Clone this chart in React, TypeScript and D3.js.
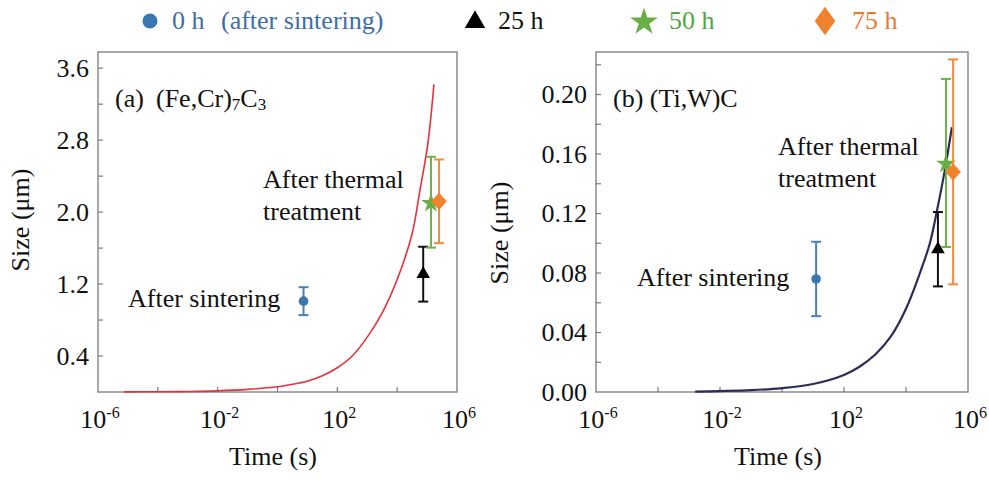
import React from 'react';
import * as d3 from 'd3';

const WIDTH = 989;
const HEIGHT = 480;
const FONT = '"Liberation Serif", "Times New Roman", serif';

// legend / series
const legendLabels = ['0 h', '25 h', '50 h', '75 h'];
const legendNotes = ['(after sintering)', '', '', ''];
const markerColors = ['#3a76b0', '#000000', '#6aae46', '#f0822e'];
const barColors = ['#4a7fb6', '#111111', '#6db24a', '#f08a3c'];
const textColors = ['#3d6ea6', '#111111', '#52a63a', '#e9782f'];

// x ticks (log10 of time)
const xLabelExps = [-6, -2, 2, 6];
const xMinorExps = [-4, -2, 0, 2, 4];

// (a) (Fe,Cr)7C3 — model curve, log10(t) vs size (µm)
const curveALogT = [-5.13, -4, -3, -2, -1, 0, 0.73, 1, 1.5, 2, 2.5, 3, 3.5, 4, 4.5, 4.75, 5, 5.1, 5.23];
const curveASize = [0.001, 0.003, 0.006, 0.013, 0.029, 0.058, 0.1, 0.12, 0.18, 0.27, 0.4, 0.61, 0.88, 1.25, 1.76, 2.22, 2.7, 2.97, 3.42];
// measured points
const pointsALogT = [0.87, 4.87, 5.13, 5.4];
const pointsASize = [1.01, 1.31, 2.11, 2.12];
const pointsAErr = [0.155, 0.305, 0.505, 0.465];
const yTicksA = [0.4, 1.2, 2.0, 2.8, 3.6];
const yMinorA = [0.4, 0.8, 1.2, 1.6, 2.0, 2.4, 2.8, 3.2, 3.6];

// (b) (Ti,W)C — model curve
const curveBLogT = [-2.8, -2, -1, 0, 1, 2, 2.5, 3, 3.5, 4, 4.5, 4.77, 5, 5.26, 5.48];
const curveBSize = [0.0003, 0.0006, 0.0012, 0.0026, 0.0054, 0.0115, 0.017, 0.025, 0.037, 0.056, 0.083, 0.1, 0.122, 0.15, 0.178];
const pointsBLogT = [1.1, 5.03, 5.29, 5.52];
const pointsBSize = [0.076, 0.096, 0.154, 0.148];
const pointsBErr = [0.025, 0.025, 0.0565, 0.0756];
const yTicksB = [0, 0.04, 0.08, 0.12, 0.16, 0.2];
const yMinorB = [0.02, 0.04, 0.06, 0.08, 0.1, 0.12, 0.14, 0.16, 0.18, 0.2, 0.22];

const PLOT_TOP = 52;
const PLOT_BOTTOM = 392;

function marker(i: number, x: number, y: number, big: boolean) {
  const c = markerColors[i];
  if (i === 0) {
    return <circle cx={x} cy={y} r={big ? 7.5 : 4.8} fill={c} />;
  }
  if (i === 1) {
    const p = d3.symbol().type(d3.symbolTriangle).size(big ? 180 : 80)();
    return <path d={p || ''} transform={`translate(${x},${y + (big ? 1 : 0)})`} fill={c} />;
  }
  if (i === 2) {
    const p = d3.symbol().type(d3.symbolStar).size(big ? 240 : 120)();
    return <path d={p || ''} transform={`translate(${x},${y + 1})`} fill={c} />;
  }
  const p = d3.symbol().type(d3.symbolSquare).size(big ? 210 : 120)();
  return <path d={p || ''} transform={`translate(${x},${y}) scale(1,${big ? 1.4 : 1.12}) rotate(45)`} fill={c} />;
}

type PanelProps = {
  x0: number; x1: number; yMax: number;
  yTicks: number[]; yMinor: number[]; fmt: (v: number) => string;
  curveT: number[]; curveS: number[]; curveColor: string; curveWidth: number;
  ptT: number[]; ptS: number[]; ptE: number[];
  children?: React.ReactNode;
};

function Panel(p: PanelProps) {
  const x = d3.scaleLog().domain([1e-6, 1e6]).range([p.x0, p.x1]);
  const y = d3.scaleLinear().domain([0, p.yMax]).range([PLOT_BOTTOM, PLOT_TOP]);
  const line = d3.line<number>()
    .x((_, i) => x(Math.pow(10, p.curveT[i])))
    .y(d => y(d))
    .curve(d3.curveCatmullRom.alpha(0.5));
  const axisColor = '#7a7a7a';
  return (
    <g>
      {/* frame */}
      <rect x={p.x0} y={PLOT_TOP} width={p.x1 - p.x0} height={PLOT_BOTTOM - PLOT_TOP}
        fill="none" stroke={axisColor} strokeWidth={1.3} />
      {/* y ticks */}
      {p.yMinor.map(v => (
        <line key={'ym' + v} x1={p.x0} x2={p.x0 + 5} y1={y(v)} y2={y(v)} stroke={axisColor} strokeWidth={1.2} />
      ))}
      {p.yTicks.map(v => (
        <text key={'yl' + v} x={p.x0 - 9} y={y(v) + 8.5} textAnchor="end" fontSize={26} fill="#111">{p.fmt(v)}</text>
      ))}
      {/* x ticks */}
      {xMinorExps.map(e => (
        <line key={'xm' + e} x1={x(Math.pow(10, e))} x2={x(Math.pow(10, e))} y1={PLOT_BOTTOM} y2={PLOT_BOTTOM - 5}
          stroke={axisColor} strokeWidth={1.2} />
      ))}
      {xLabelExps.map(e => (
        <text key={'xl' + e} x={x(Math.pow(10, e)) + 2} y={428} textAnchor="middle" fontSize={26} fill="#111">
          10<tspan fontSize={16} dy={-10}>{e}</tspan>
        </text>
      ))}
      {/* curve */}
      <path d={line(p.curveS) || ''} fill="none" stroke={p.curveColor} strokeWidth={p.curveWidth} />
      {/* error bars + markers */}
      {p.ptT.map((t, i) => {
        const cx = x(Math.pow(10, t));
        const yt = y(p.ptS[i] + p.ptE[i]);
        const yb = y(p.ptS[i] - p.ptE[i]);
        return (
          <g key={'pt' + i}>
            <line x1={cx} x2={cx} y1={yt} y2={yb} stroke={barColors[i]} strokeWidth={2} />
            <line x1={cx - 5} x2={cx + 5} y1={yt} y2={yt} stroke={barColors[i]} strokeWidth={2} />
            <line x1={cx - 5} x2={cx + 5} y1={yb} y2={yb} stroke={barColors[i]} strokeWidth={2} />
            {marker(i, cx, y(p.ptS[i]), false)}
          </g>
        );
      })}
      {p.children}
    </g>
  );
}

export default function App() {
  const legendX = [150, 475, 644, 825];
  const legendTextX = [172, 498, 669, 852];
  return (
    <svg width={WIDTH} height={HEIGHT} viewBox={`0 0 ${WIDTH} ${HEIGHT}`}
      style={{ position: 'absolute', left: 0, top: 0, background: '#fff', display: 'block' }}
      fontFamily={FONT}>
      <rect width={WIDTH} height={HEIGHT} fill="#fff" />

      {/* legend */}
      {legendLabels.map((lab, i) => (
        <g key={'lg' + i}>
          {marker(i, legendX[i], 21, true)}
          <text x={legendTextX[i]} y={29} fontSize={26} fill={textColors[i]}>{lab}</text>
          {legendNotes[i] && (
            <text x={221} y={29} fontSize={26} fill={textColors[i]}>{legendNotes[i]}</text>
          )}
        </g>
      ))}

      <Panel x0={98} x1={457} yMax={3.78} yTicks={yTicksA} yMinor={yMinorA} fmt={d3.format('.1f')}
        curveT={curveALogT} curveS={curveASize} curveColor="#e8303c" curveWidth={1.6}
        ptT={pointsALogT} ptS={pointsASize} ptE={pointsAErr}>
        <text x={115} y={107} fontSize={26} fill="#111">(a)</text>
        <text x={156} y={107} fontSize={26} fill="#111">
          (Fe,Cr)<tspan fontSize={17} dy={3}>7</tspan><tspan dy={-3}>C</tspan><tspan fontSize={17} dy={3}>3</tspan>
        </text>
        <text x={263} y={188} fontSize={26} fill="#111">After thermal</text>
        <text x={263} y={220} fontSize={26} fill="#111">treatment</text>
        <text x={128} y={307} fontSize={26} fill="#111">After sintering</text>
        <text transform="translate(29,220) rotate(-90)" textAnchor="middle" fontSize={26} fill="#111">Size (μm)</text>
        <text x={273} y={465} textAnchor="middle" fontSize={26} fill="#111">Time (s)</text>
      </Panel>

      <Panel x0={596} x1={968} yMax={0.2286} yTicks={yTicksB} yMinor={yMinorB} fmt={d3.format('.2f')}
        curveT={curveBLogT} curveS={curveBSize} curveColor="#2c2c58" curveWidth={2.2}
        ptT={pointsBLogT} ptS={pointsBSize} ptE={pointsBErr}>
        <text x={613} y={107} fontSize={26} fill="#111">(b) (Ti,W)C</text>
        <text x={778} y={155} fontSize={26} fill="#111">After thermal</text>
        <text x={778} y={187} fontSize={26} fill="#111">treatment</text>
        <text x={637} y={286} fontSize={26} fill="#111">After sintering</text>
        <text transform="translate(508,233) rotate(-90)" textAnchor="middle" fontSize={26} fill="#111">Size (μm)</text>
        <text x={778} y={465} textAnchor="middle" fontSize={26} fill="#111">Time (s)</text>
      </Panel>
    </svg>
  );
}
